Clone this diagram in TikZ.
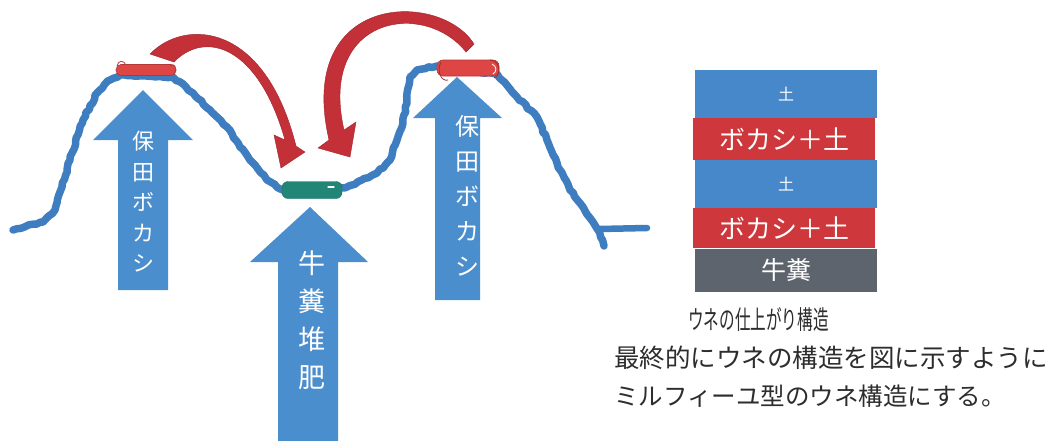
\documentclass[tikz,border=0pt]{standalone}
\usepackage{fontspec}
\setmainfont{Noto Sans CJK JP}
\usetikzlibrary{decorations.pathmorphing}
\definecolor{arrowblue}{RGB}{75,142,206}
\definecolor{ridgeblue}{RGB}{62,125,192}
\definecolor{layerblue}{RGB}{70,136,202}
\definecolor{layerred}{RGB}{206,56,60}
\definecolor{layergray}{RGB}{94,100,110}
\definecolor{bendred}{RGB}{196,48,56}
\definecolor{capred}{RGB}{222,70,70}
\definecolor{capgreen}{RGB}{34,134,118}
\definecolor{inkgray}{RGB}{45,45,45}
\tikzset{
  uparrow/.style={fill=arrowblue, draw=none},
  arrowtext/.style={text=white, align=center, inner sep=0pt},
  ridge/.style={draw=ridgeblue, line width=7.5pt, line join=round, line cap=round,
    decorate, decoration={random steps, segment length=4pt, amplitude=0.9pt}},
  bendarrow/.style={fill=bendred, draw=bendred!80!black, line width=0.4pt},
  layer/.style={minimum width=182pt, inner sep=0pt, text=white},
  caption/.style={text=inkgray, anchor=west, inner sep=0pt}
}
\begin{document}
\begin{tikzpicture}[x=1pt,y=-1pt]
\pgfmathsetseed{7}
\useasboundingbox (0,0) rectangle (1053,440);
\fill[white] (0,0) rectangle (1053,440);

% ridge cross-section
\draw[ridge] (13,230) -- (43,222) -- (55,210) -- (62,187) -- (72,153) -- (83,120)
  -- (97,93) -- (110,80) -- (120,75) -- (173,77) -- (193,93) -- (210,110)
  -- (227,127) -- (240,147) -- (253,163) -- (267,180) -- (283,190) -- (300,194)
  -- (347,187) -- (377,173) -- (390,160) -- (397,140) -- (402,127) -- (407,100)
  -- (410,77) -- (417,70) -- (437,66) -- (497,74) -- (517,97) -- (537,117)
  -- (547,140) -- (557,163) -- (570,190) -- (583,207) -- (598,230) -- (604,246);
\coordinate (foot) at (599,229);
\coordinate (flat) at (647,228);
\draw[draw=ridgeblue, line width=6.5pt, line cap=round] (foot) -- (flat);

% material placed on the ridges
\node[draw=capred!80!black, fill=capred, rounded corners=5pt, minimum width=60pt,
  minimum height=11pt, inner sep=0pt, line width=0.6pt] (capL) at (146,70) {};
\draw[capred!85!black, line width=0.8pt] (117,66) .. controls (118,60) and (124,60) .. (126,65);
\draw[capred!85!black, line width=0.8pt] (170,66) .. controls (174,62) and (178,68) .. (174,74);
\node[draw=capred!80!black, fill=capred, rounded corners=6pt, minimum width=62pt,
  minimum height=16pt, inner sep=0pt, line width=0.6pt] (capR) at (468,68) {};
\draw[capred!70!black, line width=0.8pt] (441,62) .. controls (436,72) and (442,82) .. (448,80);
\draw[capred!70!black, line width=0.8pt] (490,60) .. controls (500,60) and (502,76) .. (494,78);
\draw[white, line width=0.8pt] (492,64) .. controls (497,66) and (497,72) .. (493,74);
\node[draw=capgreen!80!black, fill=capgreen, rounded corners=6pt, minimum width=60pt,
  minimum height=17pt, inner sep=0pt] (capM) at (312,190) {};
\draw[white, line width=1.2pt, line cap=round] (328,187) -- (334,187);

% curved arrows of the moved material
\filldraw[bendarrow] (150,54) .. controls (185,18) and (265,22) .. (296,146) -- (305,152)
  -- (281,168) -- (274,135) -- (285,140) .. controls (258,45) and (205,30) .. (174,62) -- cycle;
\filldraw[bendarrow] (474,44) .. controls (440,-10) and (295,-8) .. (329,140) -- (318,148)
  -- (350,157) -- (356,122) -- (344,130) .. controls (318,15) and (425,0) .. (466,52) -- cycle;

% upward arrows
\fill[uparrow] (143,90) -- (193,140) -- (168,140) -- (168,290) -- (118,290) -- (118,140) -- (93,140) -- cycle;
\node[arrowtext, font=\fontsize{22}{30.5}\selectfont] (hodaL) at (143,202) {保\\田\\ボ\\カ\\シ};

\fill[uparrow] (310,207) -- (368,262) -- (338,262) -- (338,445) -- (278,445) -- (278,262) -- (250,262) -- cycle;
\node[arrowtext, font=\fontsize{27}{38}\selectfont] (manure) at (312,320) {牛\\糞\\堆\\肥};

\fill[uparrow] (457,77) -- (502,118) -- (480,118) -- (480,300) -- (435,300) -- (435,118) -- (413,118) -- cycle;
\node[arrowtext, font=\fontsize{24}{35}\selectfont] (hodaR) at (467,196) {保\\田\\ボ\\カ\\シ};

% finished ridge layers
\node[layer, fill=layerblue, minimum height=48pt, font=\fontsize{16}{16}\selectfont] (soilA) at (786,94) {土};
\node[layer, fill=layerred, minimum height=42pt, font=\fontsize{26}{26}\selectfont] (mixA) at (784,139) {ボカシ＋土};
\node[layer, fill=layerblue, minimum height=48pt, font=\fontsize{16}{16}\selectfont] (soilB) at (786,184) {土};
\node[layer, fill=layerred, minimum height=40pt, font=\fontsize{26}{26}\selectfont] (mixB) at (784,228) {ボカシ＋土};
\node[layer, fill=layergray, minimum height=43pt, font=\fontsize{25}{25}\selectfont] (dung) at (786,270.5) {牛糞};

% captions
\node[caption, font=\fontsize{26}{26}\selectfont] (title) at (688,320) {\scalebox{0.6}[1]{ウネの仕上がり構造}};
\node[caption, font=\fontsize{25.5}{25.5}\selectfont] (lineA) at (614,358) {最終的にウネの構造を図に示すように};
\node[caption, font=\fontsize{24.5}{24.5}\selectfont] (lineB) at (614,396) {ミルフィーユ型のウネ構造にする。};
\end{tikzpicture}
\end{document}
